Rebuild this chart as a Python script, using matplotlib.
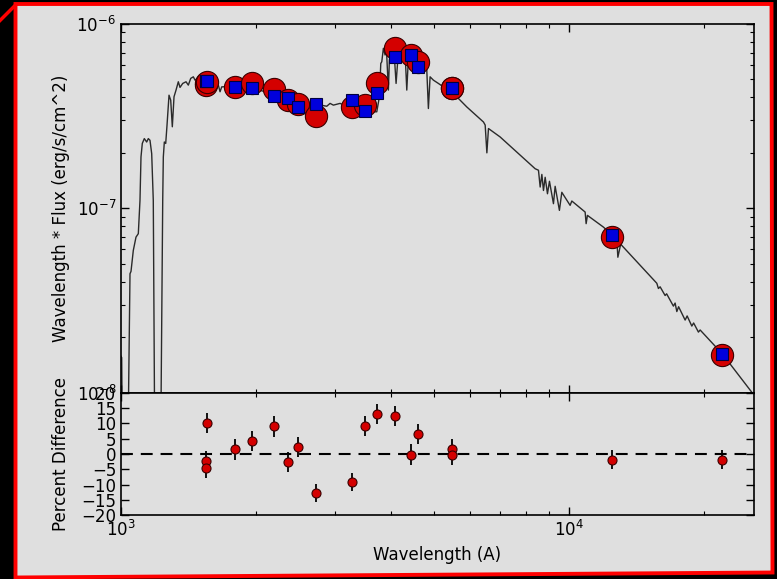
import matplotlib
matplotlib.use('Agg')
import matplotlib.pyplot as plt
from matplotlib.patches import Polygon
from matplotlib.lines import Line2D
from matplotlib.ticker import LogLocator, NullFormatter, MultipleLocator

# ---------------- data ----------------
spec_wave = [990, 1003.6, 1008, 1035, 1047.3, 1052.7, 1065.2, 1080.0, 1093.0, 1102.4,
             1108.1, 1115.6, 1127.1, 1141.0, 1150.5, 1160.5, 1170.7, 1180.3, 1190.0, 1225.0,
             1238.9, 1242.7, 1249.2, 1258.1, 1266.6, 1279.6, 1290.8, 1301.5, 1312.9, 1326.5,
             1342.2, 1354.0, 1372.9, 1396.4, 1413.0, 1430.5, 1449.8, 1462.5, 1485.2, 1547.6,
             1612.5, 1648.5, 1662.9, 1677.5, 1796.3, 1960, 2195, 2359, 2494.8, 2723,
             2876.5, 2925.7, 2975.7, 3080.0, 3187.0, 3281, 3502, 3654.6, 3718.8, 3768.8,
             3796.0, 3815.5, 3847.0, 3880.7, 3910.7, 3947.0, 3967.3, 4016.5, 4064.2, 4106.2,
             4155.0, 4228.1, 4300.4, 4338.2, 4374.0, 4457.9, 4550.4, 4644.8, 4741.3, 4807.5,
             4847.2, 4889.7, 4973.3, 5102.6, 5235.4, 5465, 5607.2, 5903.0, 6431.8, 6488.2,
             6545, 6599.0, 7005.2, 7631.4, 8387.2, 8530.5, 8605.2, 8680.6, 8752.3, 8828.9,
             8934, 9026, 9213, 9293, 9499, 9617, 10036, 10124, 10840, 10896,
             10969, 11910, 12473, 12758, 12824, 13010, 15664, 15793, 15932, 16346,
             16473, 17058, 17207, 17358, 17519, 18115, 18302, 18749, 18923, 19395,
             19565, 21946, 25523, 26630]
spec_flux = [1.65e-8, 1.55e-8, 4e-9, 4e-9, 4.42e-8, 4.55e-8, 5.91e-8, 6.98e-8, 7.29e-8, 1.105e-7,
             1.90e-7, 2.25e-7, 2.39e-7, 2.29e-7, 2.39e-7, 2.34e-7, 1.98e-7, 1.105e-7, 4e-9, 4e-9,
             1.105e-7, 1.90e-7, 2.29e-7, 2.25e-7, 2.83e-7, 4.11e-7, 3.86e-7, 2.77e-7, 4.03e-7, 4.38e-7,
             4.86e-7, 4.53e-7, 4.76e-7, 4.86e-7, 4.66e-7, 5.07e-7, 5.17e-7, 4.96e-7, 5.09e-7, 4.96e-7,
             4.84e-7, 4.66e-7, 4.29e-7, 4.56e-7, 4.60e-7, 4.49e-7, 4.16e-7, 3.91e-7, 3.63e-7, 3.67e-7,
             3.58e-7, 3.71e-7, 3.63e-7, 3.71e-7, 3.58e-7, 3.77e-7, 3.50e-7, 3.34e-7, 3.34e-7, 4.03e-7,
             6.11e-7, 6.24e-7, 7.38e-7, 6.79e-7, 7.05e-7, 4.38e-7, 6.37e-7, 7.22e-7, 7.05e-7, 4.76e-7,
             7.07e-7, 7.22e-7, 6.93e-7, 4.38e-7, 6.51e-7, 6.62e-7, 6.22e-7, 5.86e-7, 5.69e-7, 5.62e-7,
             3.48e-7, 5.17e-7, 4.96e-7, 4.76e-7, 4.56e-7, 4.47e-7, 4.03e-7, 3.55e-7, 2.94e-7, 2.83e-7,
             2.00e-7, 2.71e-7, 2.44e-7, 2.02e-7, 1.64e-7, 1.61e-7, 1.305e-7, 1.528e-7, 1.25e-7, 1.474e-7,
             1.20e-7, 1.402e-7, 1.06e-7, 1.317e-7, 9.75e-8, 1.222e-7, 1.038e-7, 1.096e-7, 9.55e-8, 8.26e-8,
             9.16e-8, 7.91e-8, 7.13e-8, 6.73e-8, 5.43e-8, 6.39e-8, 3.922e-8, 3.674e-8, 3.753e-8, 3.366e-8,
             3.439e-8, 2.948e-8, 3.064e-8, 2.755e-8, 2.926e-8, 2.477e-8, 2.608e-8, 2.298e-8, 2.389e-8, 2.132e-8,
             2.189e-8, 1.62e-8, 1.004e-8, 8.8e-9]

phot_wave = [1545, 1545, 1555, 1794, 1960, 2195, 2359, 2478, 2723, 3281,
             3502, 3725, 4091, 4428, 4590, 5465, 5465, 12454, 21946]
obs_flux = [4.78e-7, 4.66e-7, 4.87e-7, 4.56e-7, 4.76e-7, 4.42e-7, 3.86e-7, 3.66e-7, 3.16e-7, 3.55e-7,
            3.63e-7, 4.76e-7, 7.38e-7, 6.79e-7, 6.24e-7, 4.50e-7, 4.47e-7, 7.0e-8, 1.60e-8]
model_flux = [4.90e-7, 4.90e-7, 4.90e-7, 4.53e-7, 4.47e-7, 4.08e-7, 3.95e-7, 3.55e-7, 3.67e-7, 3.86e-7,
              3.37e-7, 4.20e-7, 6.64e-7, 6.79e-7, 5.86e-7, 4.47e-7, 4.47e-7, 7.13e-8, 1.62e-8]
pct_diff = [-2.3, -4.5, 10.2, 1.5, 4.3, 9.0, -2.5, 2.3, -12.7, -9.2,
            9.1, 13.0, 12.5, -0.2, 6.5, 1.5, -0.3, -1.8, -1.8]
pct_err = [3.3, 3.3, 3.3, 3.3, 3.3, 3.3, 3.3, 3.3, 3.0, 3.0,
           3.3, 3.3, 3.3, 3.3, 3.3, 3.3, 3.3, 3.0, 3.0]

xlim = (1000, 25800)
ylim_top = (1e-8, 1e-6)
ylim_bot = (-20, 20)

# ---------------- figure ----------------
W, H = 777, 579
plt.rcParams['font.family'] = ['DejaVu Sans']
plt.rcParams['font.size'] = 12
plt.rcParams['mathtext.default'] = 'regular'
fig = plt.figure(figsize=(W / 100, H / 100), dpi=100, facecolor='black')

def fx(x):
    return x / W

def fy(y):
    return 1 - y / H

BG = '#dfdfdf'
frame = Polygon([(fx(15.5), fy(4)), (fx(771.5), fy(4)), (fx(772.5), fy(572.5)), (fx(15.5), fy(577.5))],
                closed=True, transform=fig.transFigure, facecolor=BG, edgecolor='#ff0000',
                lw=2.8, zorder=-5)
fig.add_artist(frame)
fig.add_artist(Line2D([fx(0), fx(15.5)], [fy(20.5), fy(5)], transform=fig.transFigure,
                      color='#ff0000', lw=2.5, zorder=-4))

ax1 = fig.add_axes([121 / W, (H - 392.7) / H, 633 / W, 368.7 / H])
ax2 = fig.add_axes([121 / W, (H - 515.3) / H, 633 / W, 122.6 / H], sharex=ax1)

for ax in (ax1, ax2):
    ax.set_facecolor(BG)
    for s in ax.spines.values():
        s.set_linewidth(1.2)
    ax.tick_params(which='both', direction='in', top=True, right=True, labelsize=12)
    ax.tick_params(which='major', length=6, width=1)
    ax.tick_params(which='minor', length=3, width=0.8)

# top panel
ax1.plot(spec_wave, spec_flux, '-', color='#2a2a2a', lw=1.0, zorder=1)
ax1.plot(phot_wave, obs_flux, 'o', ms=16, mfc='#d40000', mec='#3a0000', mew=0.8, zorder=3)
ax1.plot(phot_wave, model_flux, 's', ms=8.5, mfc='#0000dd', mec='#000040', mew=0.8, zorder=4)
ax1.set_xscale('log')
ax1.set_yscale('log')
ax1.set_xlim(*xlim)
ax1.set_ylim(*ylim_top)
ax1.yaxis.set_minor_locator(LogLocator(base=10, subs=range(2, 10), numticks=20))
ax1.yaxis.set_minor_formatter(NullFormatter())
ax1.set_ylabel('Wavelength * Flux (erg/s/cm^2)')
plt.setp(ax1.get_xticklabels(), visible=False)

# bottom panel
ax2.axhline(0, color='k', ls='--', lw=1.5, dashes=(5.7, 3.8), zorder=1)
ax2.errorbar(phot_wave, pct_diff, yerr=pct_err, fmt='o', ms=6.5, mfc='#d40000', mec='#3a0000',
             mew=0.8, ecolor='k', elinewidth=1.3, capsize=0, zorder=3)
ax2.set_ylim(*ylim_bot)
ax2.yaxis.set_major_locator(MultipleLocator(5))
ax2.xaxis.set_minor_locator(LogLocator(base=10, subs=range(2, 10), numticks=20))
ax2.xaxis.set_minor_formatter(NullFormatter())
ax2.set_xlabel('Wavelength (A)')
ax2.set_ylabel('Percent Difference')

ax1.yaxis.set_label_coords(-0.081, 0.5)
ax2.yaxis.set_label_coords(-0.081, 0.5)

fig.savefig('out.png', dpi=100, facecolor=fig.get_facecolor())
